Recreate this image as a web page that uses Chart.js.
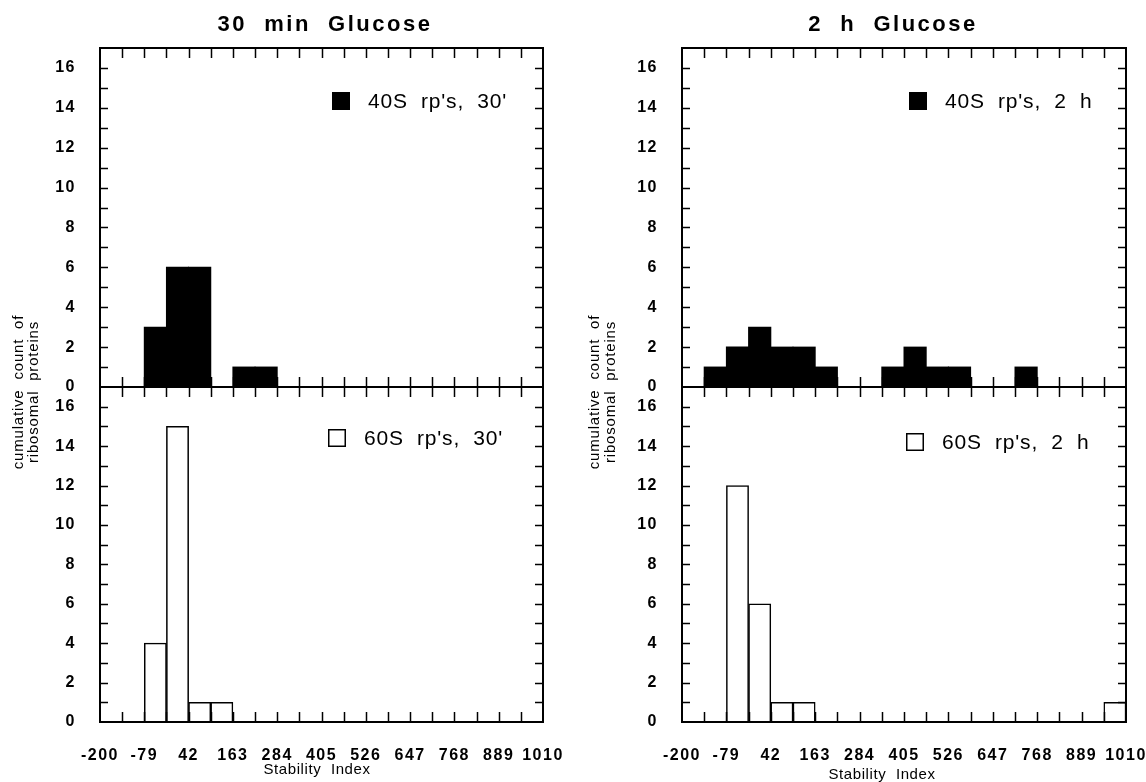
<!DOCTYPE html>
<html>
<head>
<meta charset="utf-8">
<script src="https://cdn.jsdelivr.net/npm/chart.js@4.4.1/dist/chart.umd.min.js"></script>
<style>
  html, body { margin: 0; padding: 0; background: #fff; }
  #wrap { position: relative; width: 1146px; height: 782px; }
  canvas { position: absolute; top: 0; }
</style>
</head>
<body>
<div id="wrap">
  <canvas id="chart30" width="573" height="782" style="left:0"></canvas>
  <canvas id="chart2h" width="573" height="782" style="left:573px"></canvas>
</div>
<script>
// histogram bins of the stability index (left edges, width 60.5)
const binStarts = [-200, -139.5, -79, -18.5, 42, 102.5, 163, 223.5, 284, 344.5,
                   405, 465.5, 526, 586.5, 647, 707.5, 768, 828.5, 889, 949.5];
const binWidth = 60.5;
const xTickLabels = [-200, -79, 42, 163, 284, 405, 526, 647, 768, 889, 1010];

// counts, one per bin
const counts40S_30 = [0, 0, 3, 6, 6, 0, 1, 1, 0, 0, 0, 0, 0, 0, 0, 0, 0, 0, 0, 0];
const counts60S_30 = [0, 0, 4, 15, 1, 1, 0, 0, 0, 0, 0, 0, 0, 0, 0, 0, 0, 0, 0, 0];
const counts40S_2h = [0, 1, 2, 3, 2, 2, 1, 0, 0, 1, 2, 1, 1, 0, 0, 1, 0, 0, 0, 0];
const counts60S_2h = [0, 0, 12, 6, 1, 1, 0, 0, 0, 0, 0, 0, 0, 0, 0, 0, 0, 0, 0, 1];

const FONT = "'Liberation Sans', Arial, Helvetica, sans-serif";
Chart.defaults.font.family = FONT;
Chart.defaults.color = '#000';

// frames, inward tick marks, legends and titles
const panelDecor = {
    id: 'panelDecor',
    beforeDraw: function (chart) {
        chart.ctx.letterSpacing = '1.5px';
    },
    afterDraw: function (chart, args, opts) {
        const ctx = chart.ctx;
        const x = chart.scales.x;
        ctx.save();
        ctx.strokeStyle = '#000';
        ['yTop', 'yBot'].forEach(function (id) {
            const y = chart.scales[id];
            ctx.lineWidth = 1.5;
            ctx.beginPath();
            x.ticks.forEach(function (t) {
                if (t.value <= x.min || t.value >= x.max) return;
                const px = Math.round(x.getPixelForValue(t.value)) + 0.5;
                ctx.moveTo(px, y.bottom); ctx.lineTo(px, y.bottom - 10);
                ctx.moveTo(px, y.top); ctx.lineTo(px, y.top + 10);
            });
            y.ticks.forEach(function (t) {
                if (t.value <= y.min || t.value >= y.max) return;
                const py = Math.round(y.getPixelForValue(t.value)) + 0.5;
                ctx.moveTo(x.left, py); ctx.lineTo(x.left + 8, py);
                ctx.moveTo(x.right, py); ctx.lineTo(x.right - 8, py);
            });
            ctx.stroke();
            ctx.lineWidth = 2;
            ctx.strokeRect(x.left, y.top, x.right - x.left, y.bottom - y.top);
        });

        // legends
        opts.legends.forEach(function (lg) {
            const y = chart.scales[lg.scale];
            const sx = x.left + lg.dx, sy = y.top + lg.dy;
            if (lg.filled) {
                ctx.fillStyle = '#000';
                ctx.fillRect(sx, sy, 18, 18);
            } else {
                ctx.lineWidth = 1.5;
                ctx.strokeRect(sx + 0.75, sy + 0.75, 16.5, 16.5);
            }
            ctx.fillStyle = '#000';
            ctx.font = '21px ' + FONT;
            ctx.letterSpacing = '0.8px';
            ctx.textAlign = 'left';
            ctx.textBaseline = 'middle';
            ctx.fillText(lg.text, sx + 36, sy + 10);
        });

        // column title
        ctx.fillStyle = '#000';
        ctx.textAlign = 'center';
        ctx.textBaseline = 'middle';
        ctx.font = 'bold 22px ' + FONT;
        ctx.letterSpacing = '2.5px';
        ctx.fillText(opts.title.text, opts.title.x, opts.title.y);

        // x axis title
        ctx.font = '15px ' + FONT;
        ctx.letterSpacing = '0.6px';
        ctx.fillText(opts.xTitle.text, opts.xTitle.x, opts.xTitle.y);

        // y axis title, two rotated lines
        ctx.letterSpacing = '0.8px';
        ctx.translate(opts.yTitle.x[0], opts.yTitle.y);
        ctx.rotate(-Math.PI / 2);
        ctx.fillText(opts.yTitle.lines[0], 0, 0);
        ctx.fillText(opts.yTitle.lines[1], 0, opts.yTitle.x[1] - opts.yTitle.x[0]);
        ctx.restore();
    }
};

function toPoints(values) {
    return values.map((v, i) => ({x: binStarts[i] + binWidth / 2, y: v}));
}

function yScale(stackWeight, weight) {
    return {
        type: 'linear',
        position: 'left',
        stack: 'column',
        stackWeight: stackWeight,
        weight: weight,
        min: 0,
        max: 17,
        grid: {display: false},
        border: {display: false},
        ticks: {
            stepSize: 1,
            autoSkip: false,
            padding: 16,
            font: {size: 16, weight: 'bold'},
            callback: v => (v % 2 === 0 ? String(v) : '')
        },
        afterFit: function (s) {
            s.width = 100;
            s.paddingTop = 0;
            s.paddingBottom = 0;
        }
    };
}

function makeChart(canvasId, topValues, bottomValues, padLeft, padRight, decor) {
    const ctx = document.getElementById(canvasId);
    return new Chart(ctx, {
        type: 'bar',
        data: {
            datasets: [{
                label: decor.legends[0].text,
                data: toPoints(topValues),
                yAxisID: 'yTop',
                backgroundColor: '#000',
                borderWidth: 0,
                inflateAmount: 0.5
            }, {
                label: decor.legends[1].text,
                data: toPoints(bottomValues),
                yAxisID: 'yBot',
                backgroundColor: '#fff',
                borderColor: '#000',
                borderWidth: 1.5
            }]
        },
        options: {
            responsive: false,
            animation: false,
            layout: {padding: {left: padLeft, right: padRight, top: 48, bottom: 0}},
            datasets: {bar: {grouped: false, barPercentage: 1, categoryPercentage: 1}},
            plugins: {
                legend: {display: false},
                tooltip: {enabled: false},
                panelDecor: decor
            },
            scales: {
                x: {
                    type: 'linear',
                    min: -200,
                    max: 1010,
                    offset: false,
                    grid: {display: false},
                    border: {display: false},
                    ticks: {
                        stepSize: 60.5,
                        autoSkip: false,
                        maxRotation: 0,
                        padding: 16,
                        font: {size: 16, weight: 'bold'},
                        callback: v => (xTickLabels.includes(v) ? String(v) : '')
                    },
                    afterFit: function (s) {
                        s.height = 60;
                        s.paddingLeft = 0;
                        s.paddingRight = 0;
                    }
                },
                yTop: yScale(339, 2),
                yBot: yScale(335, 1)
            }
        },
        plugins: [panelDecor]
    });
}

makeChart('chart30', counts40S_30, counts60S_30, 0, 30, {
    legends: [
        {scale: 'yTop', dx: 232, dy: 44, filled: true, text: "40S  rp's,  30'"},
        {scale: 'yBot', dx: 228, dy: 42, filled: false, text: "60S  rp's,  30'"}
    ],
    title: {text: '30  min  Glucose', x: 325, y: 25},
    xTitle: {text: 'Stability  Index', x: 317, y: 770},
    yTitle: {lines: ['cumulative  count  of', 'ribosomal  proteins'], x: [19, 34], y: 392}
});

makeChart('chart2h', counts40S_2h, counts60S_2h, 9, 20, {
    legends: [
        {scale: 'yTop', dx: 227, dy: 44, filled: true, text: "40S  rp's,  2  h"},
        {scale: 'yBot', dx: 224, dy: 46, filled: false, text: "60S  rp's,  2  h"}
    ],
    title: {text: '2  h  Glucose', x: 320, y: 25},
    xTitle: {text: 'Stability  Index', x: 309, y: 775},
    yTitle: {lines: ['cumulative  count  of', 'ribosomal  proteins'], x: [22, 38], y: 392}
});
</script>
</body>
</html>
